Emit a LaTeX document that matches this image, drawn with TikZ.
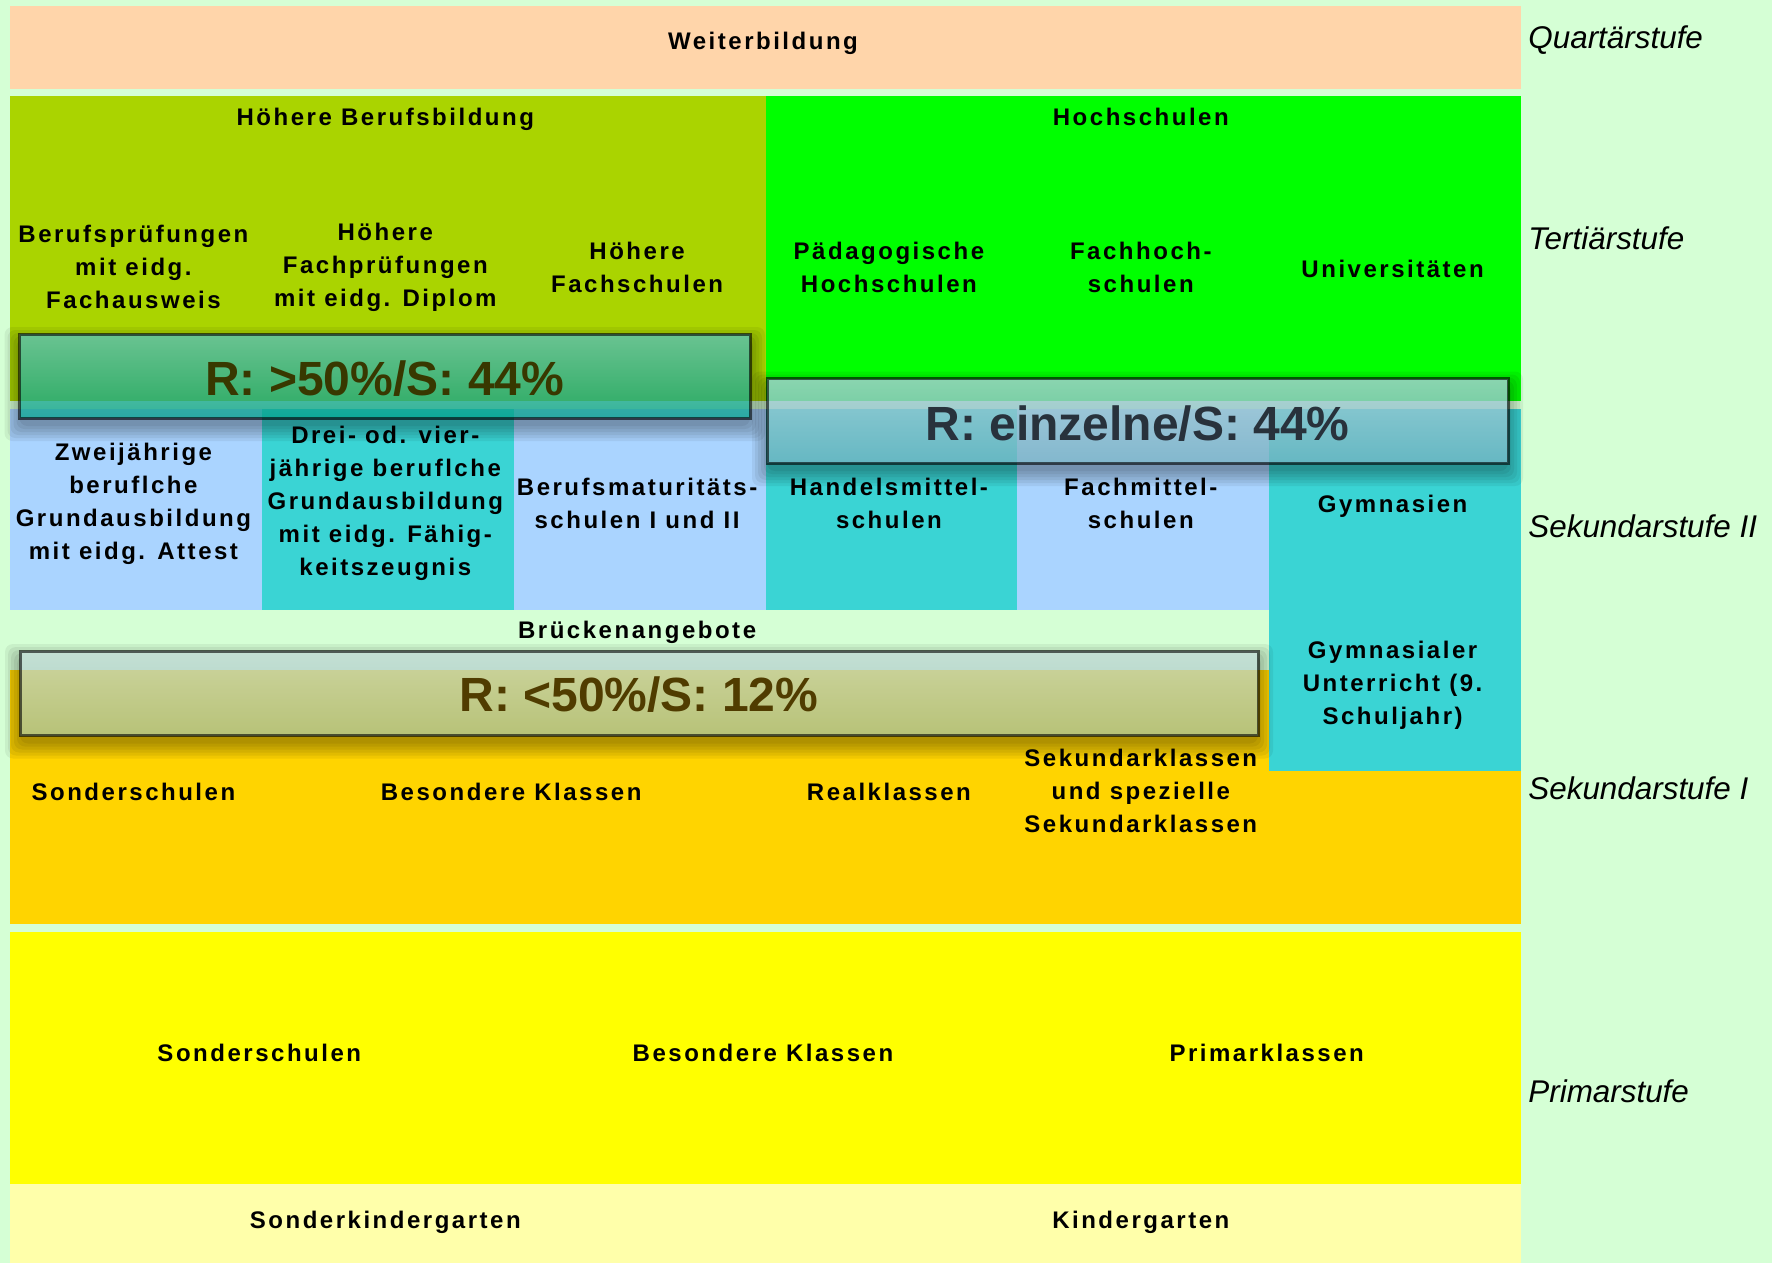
\documentclass[tikz,border=0pt]{standalone}
\usepackage{fontspec}
\setmainfont{Liberation Sans}
\newfontfamily\lblfont[LetterSpace=10.5]{Liberation Sans}
\usetikzlibrary{fadings}
\definecolor{bgc}{RGB}{213,255,213}
\definecolor{peach}{RGB}{255,213,170}
\definecolor{olivec}{RGB}{170,212,0}
\definecolor{hgreen}{RGB}{0,255,0}
\definecolor{lblue}{RGB}{170,212,255}
\definecolor{tealc}{RGB}{58,212,212}
\definecolor{orangec}{RGB}{255,212,0}
\definecolor{yellowc}{RGB}{255,255,0}
\definecolor{lyellow}{RGB}{255,255,170}
\definecolor{ovone}{RGB}{0,156,133}
\definecolor{ovtwo}{RGB}{118,175,190}
\definecolor{ovthree}{RGB}{147,186,185}
\definecolor{txone}{RGB}{56,56,0}
\definecolor{txtwo}{RGB}{40,50,60}
\definecolor{txthree}{RGB}{80,60,0}
\tikzset{
  lbl/.style={font=\lblfont\bfseries\fontsize{12}{16.5}\selectfont, align=center, inner sep=0pt, text=black, xshift=-1.25pt},
  lblb/.style={lbl, anchor=base},
  stufe/.style={font=\fontsize{15.7}{18}\selectfont\itshape, anchor=base west, inner sep=0pt},
  bigtxt/.style={font=\bfseries\fontsize{24}{28}\selectfont, inner sep=0pt, anchor=base},
  ovbox/.style={line width=1.5pt, draw=black, draw opacity=0.6},
  hilite/.style={fill=white, fill opacity=0.3, path fading=south},
}
% soft shadow drawn only outside the box (x1,y1)-(x2,y2)
\newcommand\softshadow[4]{%
  \begin{scope}
    \clip (0,0) -- (1772,0) -- (1772,1263) -- (0,1263) -- cycle
          (#1,#2) -- (#1,#4) -- (#3,#4) -- (#3,#2) -- cycle;
    \foreach \r in {0,3,...,15}{%
      \fill[black,opacity=0.06,rounded corners=4pt] (#1-\r,#2+8-\r) rectangle (#3+\r,#4+8+\r);
    }
  \end{scope}}
\begin{document}
\begin{tikzpicture}[x=0.5pt,y=-0.5pt]
\useasboundingbox (0,0) rectangle (1772,1263);
\fill[bgc] (0,0) rectangle (1772,1263);
% blocks
\fill[peach] (10,6) rectangle (1521,89);
\fill[olivec] (10,96) rectangle (765.5,401);
\fill[hgreen] (765.5,96) rectangle (1521,401);
\fill[lblue] (10,409) rectangle (261.8,610);
\fill[tealc] (261.8,409) rectangle (513.7,610);
\fill[lblue] (513.7,409) rectangle (765.5,610);
\fill[tealc] (765.5,409) rectangle (1017.3,610);
\fill[lblue] (1017.3,409) rectangle (1269.2,610);
\fill[orangec] (10,670) rectangle (1521,924);
\fill[tealc] (1269.2,409) rectangle (1521,771);
\fill[yellowc] (10,932) rectangle (1521,1184);
\fill[lyellow] (10,1184) rectangle (1521,1263);
% labels
\node[lblb] (weiter) at (765.5,50) {Weiterbildung};
\node[lblb] (hbb) at (387.8,126) {Höhere Berufsbildung};
\node[lblb] (hoch) at (1143.3,126) {Hochschulen};
\node[lbl] (bp) at (135.9,267) {Berufsprüfungen\\mit eidg.\\Fachausweis};
\node[lbl] (hfp) at (387.8,267) {Höhere\\Fachprüfungen\\mit eidg. Diplom};
\node[lbl] (hfs) at (639.6,267) {Höhere\\Fachschulen};
\node[lbl] (ph) at (891.4,267) {Pädagogische\\Hochschulen};
\node[lbl] (fh) at (1143.3,267) {Fachhoch-\\schulen};
\node[lblb] (uni) at (1395.1,277) {Universitäten};
\node[lbl] (zwei) at (135.9,503.5) {Zweijährige\\beruflche\\Grundausbildung\\mit eidg. Attest};
\node[lbl] (drei) at (387.8,503.5) {Drei- od. vier-\\jährige beruflche\\Grundausbildung\\mit eidg. Fähig-\\keitszeugnis};
\node[lbl] (bms) at (639.6,503.5) {Berufsmaturitäts-\\schulen I und II};
\node[lbl] (hms) at (891.4,503.5) {Handelsmittel-\\schulen};
\node[lbl] (fms) at (1143.3,503.5) {Fachmittel-\\schulen};
\node[lblb] (gym) at (1395.1,512.7) {Gymnasien};
\node[lblb] (bruecke) at (639.6,638) {Brückenangebote};
\node[lbl] (gymu) at (1395.1,685) {Gymnasialer\\Unterricht (9.\\Schuljahr)};
\node[lblb] (sonder1) at (135.9,800) {Sonderschulen};
\node[lblb] (bes1) at (513.7,800) {Besondere Klassen};
\node[lblb] (real) at (891.4,800) {Realklassen};
\node[lbl] (sek) at (1143.3,790.5) {Sekundarklassen\\und spezielle\\Sekundarklassen};
\node[lblb] (sonder2) at (261.8,1061.7) {Sonderschulen};
\node[lblb] (bes2) at (765.5,1061.7) {Besondere Klassen};
\node[lblb] (prim) at (1269.2,1061.7) {Primarklassen};
\node[lblb] (skg) at (387.8,1228) {Sonderkindergarten};
\node[lblb] (kg) at (1143.3,1228) {Kindergarten};
% stage names
\node[stufe] (st1) at (1528,48.3) {Quartärstufe};
\node[stufe] (st2) at (1528,249) {Tertiärstufe};
\node[stufe] (st3) at (1528,537) {Sekundarstufe II};
\node[stufe] (st4) at (1528,799) {Sekundarstufe I};
\node[stufe] (st5) at (1528,1102.7) {Primarstufe};
% overlay boxes
\softshadow{19.5}{334}{750}{418}
\fill[ovone, fill opacity=0.75] (19.5,334) rectangle (750,418);
\fill[hilite] (19.5,334) rectangle (750,418);
\draw[ovbox] (19.5,334) rectangle (750,418);
\node[bigtxt, text=txone] (rone) at (384.75,395) {R: >50\%/S: 44\%};
\softshadow{767}{378.5}{1508}{463}
\fill[ovtwo, fill opacity=0.75] (767,378.5) rectangle (1508,463);
\fill[hilite] (767,378.5) rectangle (1508,463);
\draw[ovbox] (767,378.5) rectangle (1508,463);
\node[bigtxt, text=txtwo] (rtwo) at (1137.5,440) {R: einzelne/S: 44\%};
\softshadow{20}{651}{1258}{735.5}
\fill[ovthree, fill opacity=0.65] (20,651) rectangle (1258,735.5);
\fill[hilite] (20,651) rectangle (1258,735.5);
\draw[ovbox] (20,651) rectangle (1258,735.5);
\node[bigtxt, text=txthree] (rthree) at (639,711.7) {R: <50\%/S: 12\%};
\end{tikzpicture}
\end{document}
